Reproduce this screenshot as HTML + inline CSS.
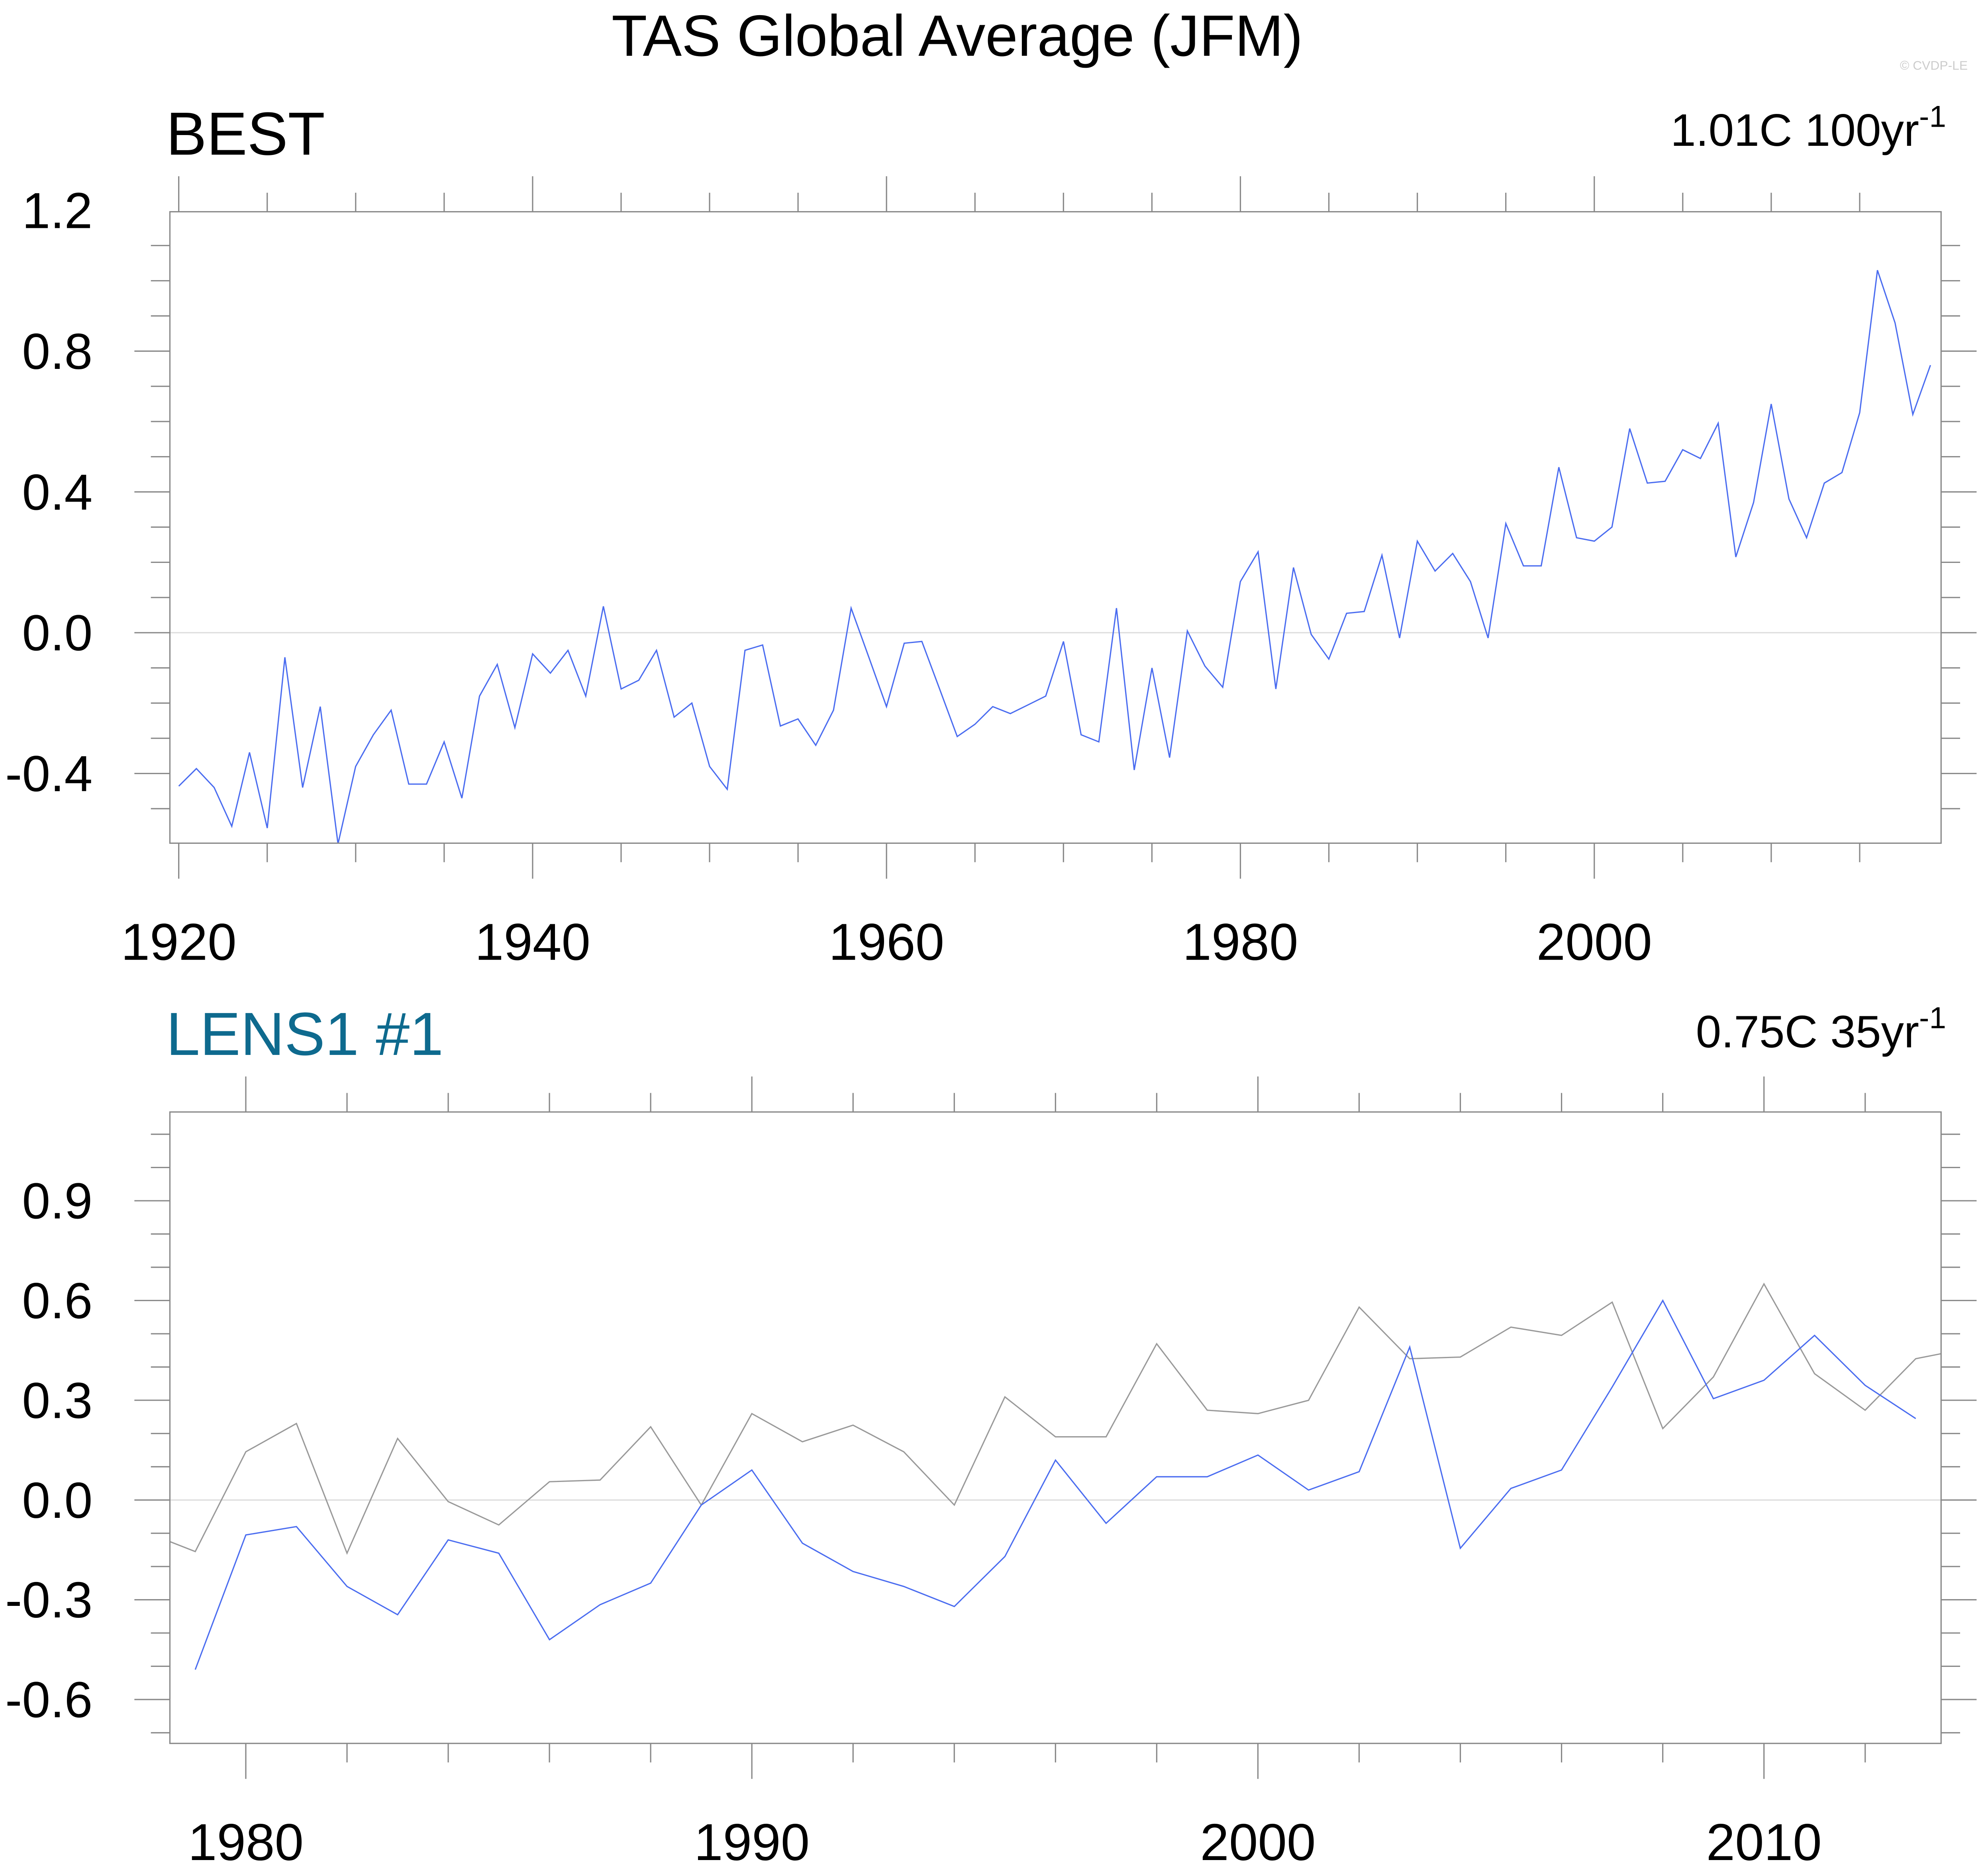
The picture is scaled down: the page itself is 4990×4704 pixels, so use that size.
<!DOCTYPE html>
<html><head><meta charset="utf-8"><style>html,body{margin:0;padding:0;background:#fff}svg{display:block}text{font-family:"Liberation Sans",Arial,sans-serif}</style></head>
<body>
<svg id="chart" xmlns="http://www.w3.org/2000/svg" width="4990" height="4704" viewBox="0 0 1568 1478" preserveAspectRatio="none">
<text x="755" y="44" font-size="46" text-anchor="middle">TAS Global Average (JFM)</text>
<text x="1552" y="55" font-size="10" fill="#ccc" text-anchor="end">© CVDP-LE</text>
<text x="131" y="122" font-size="48">BEST</text>
<text x="1535" y="115" font-size="36" text-anchor="end">1.01C 100yr<tspan dy="-15" font-size="24">-1</tspan></text>
<text x="131" y="832" font-size="48" fill="#0e6a8e">LENS1 #1</text>
<text x="1535" y="826" font-size="36" text-anchor="end">0.75C 35yr<tspan dy="-15" font-size="24">-1</tspan></text>
<g id="g1"></g><g id="g2"></g>
</svg>
<script>
const bestYears=[];for(let y=1920;y<=2019;y++)bestYears.push(y);
const bestValues=[-0.436,-0.386,-0.44,-0.55,-0.34,-0.555,-0.07,-0.44,-0.21,-0.6,-0.38,-0.29,-0.22,-0.43,-0.43,-0.31,-0.47,-0.18,-0.09,-0.27,-0.06,-0.115,-0.05,-0.18,0.075,-0.16,-0.135,-0.05,-0.24,-0.2,-0.38,-0.445,-0.05,-0.035,-0.265,-0.245,-0.32,-0.22,0.07,-0.07,-0.21,-0.03,-0.025,-0.16,-0.295,-0.26,-0.21,-0.23,-0.205,-0.18,-0.025,-0.29,-0.31,0.07,-0.39,-0.1,-0.355,0.005,-0.095,-0.155,0.145,0.23,-0.16,0.185,-0.005,-0.075,0.055,0.06,0.22,-0.015,0.26,0.175,0.225,0.145,-0.015,0.31,0.19,0.19,0.47,0.27,0.26,0.3,0.58,0.425,0.43,0.52,0.495,0.595,0.215,0.37,0.65,0.38,0.27,0.425,0.455,0.625,1.03,0.88,0.62,0.76];
const lensYears=[];for(let y=1979;y<=2013;y++)lensYears.push(y);
const lensValues=[-0.51,-0.105,-0.08,-0.26,-0.345,-0.12,-0.16,-0.42,-0.315,-0.25,-0.015,0.09,-0.13,-0.215,-0.26,-0.32,-0.17,0.12,-0.07,0.07,0.07,0.135,0.03,0.085,0.46,-0.145,0.035,0.09,0.34,0.6,0.305,0.36,0.495,0.345,0.245];
const topYTicks=["-0.4","0.0","0.4","0.8","1.2"];
const botYTicks=["-0.6","-0.3","0.0","0.3","0.6","0.9"];
const topXTicks=["1920","1940","1960","1980","2000"];
const botXTicks=["1980","1990","2000","2010"];
const NS="http://www.w3.org/2000/svg";
function mk(p,t,a){const e=document.createElementNS(NS,t);for(const k in a)e.setAttribute(k,a[k]);p.appendChild(e);return e;}
function panel(g,o){
 const sx=v=>o.L+(v-o.x0)/(o.x1-o.x0)*(o.R-o.L);
 const sy=v=>o.B-(v-o.y0)/(o.y1-o.y0)*(o.B-o.T);
 const clipId='c'+o.id;
 const cp=mk(g,'clipPath',{id:clipId});mk(cp,'rect',{x:o.L,y:o.T,width:o.R-o.L,height:o.B-o.T});
 for(let v=Math.ceil(o.x0/o.xmin)*o.xmin;v<=o.x1+1e-9;v+=o.xmin){
  const major=Math.abs(v/o.xmaj-Math.round(v/o.xmaj))<1e-6;const len=major?28:15;const x=sx(v);
  const t1=mk(g,'line',{x1:x,x2:x,y1:o.T,y2:o.T-len,stroke:'#888','stroke-width':1});
  
  const t2=mk(g,'line',{x1:x,x2:x,y1:o.B,y2:o.B+len,stroke:'#888','stroke-width':1});
  
 }
 for(let i=Math.ceil(o.y0/o.ymin-1e-9);i*o.ymin<=o.y1+1e-9;i++){
  const v=i*o.ymin;const major=Math.abs(v/o.ymaj-Math.round(v/o.ymaj))<1e-6;const len=major?28:15;const y=sy(v);
  const t1=mk(g,'line',{x1:o.L,x2:o.L-len,y1:y,y2:y,stroke:'#888','stroke-width':1});
  
  const t2=mk(g,'line',{x1:o.R,x2:o.R+len,y1:y,y2:y,stroke:'#888','stroke-width':1});
  
 }
 o.yt.forEach(s=>{const t=mk(g,'text',{x:73,y:sy(parseFloat(s))+14,'font-size':40,'text-anchor':'end'});t.textContent=s;
  });
 o.xt.forEach(s=>{const t=mk(g,'text',{x:sx(parseFloat(s)),y:o.B+92,'font-size':41,'text-anchor':'middle'});t.textContent=s;
  });
 const z=mk(g,'line',{x1:o.L,x2:o.R,y1:sy(0),y2:sy(0),stroke:'#ddd','stroke-width':1});
 
 o.series.forEach(s=>{
  const pts=s.xs.map((x,i)=>sx(x).toFixed(1)+','+sy(s.ys[i]).toFixed(1)).join(' ');
  const p=mk(g,'polyline',{points:pts,fill:'none',stroke:s.c,'stroke-width':1,'clip-path':'url(#'+clipId+')'});
  
 });
 const b=mk(g,'rect',{x:o.L,y:o.T,width:o.R-o.L,height:o.B-o.T,fill:'none',stroke:'#888','stroke-width':1});
 
}
const g1=document.getElementById('g1');
const g2=document.getElementById('g2');
panel(g1,{id:1,L:134,R:1531,T:167,B:665,x0:1919.5,x1:2019.6,y0:-0.598,y1:1.196,xmin:5,xmaj:20,ymin:0.1,ymaj:0.4,yt:topYTicks,xt:topXTicks,
 series:[{xs:bestYears,ys:bestValues,c:'#4a6cf0',n:'best-line'}]});
panel(g2,{id:2,L:134,R:1531,T:877,B:1375,x0:1978.5,x1:2013.5,y0:-0.732,y1:1.167,xmin:2,xmaj:10,ymin:0.1,ymaj:0.3,yt:botYTicks,xt:botXTicks,
 series:[{xs:bestYears,ys:bestValues,c:'#999',n:'observed-line'},{xs:lensYears,ys:lensValues,c:'#4a6cf0',n:'lens-line'}]});
</script>
</body></html>
